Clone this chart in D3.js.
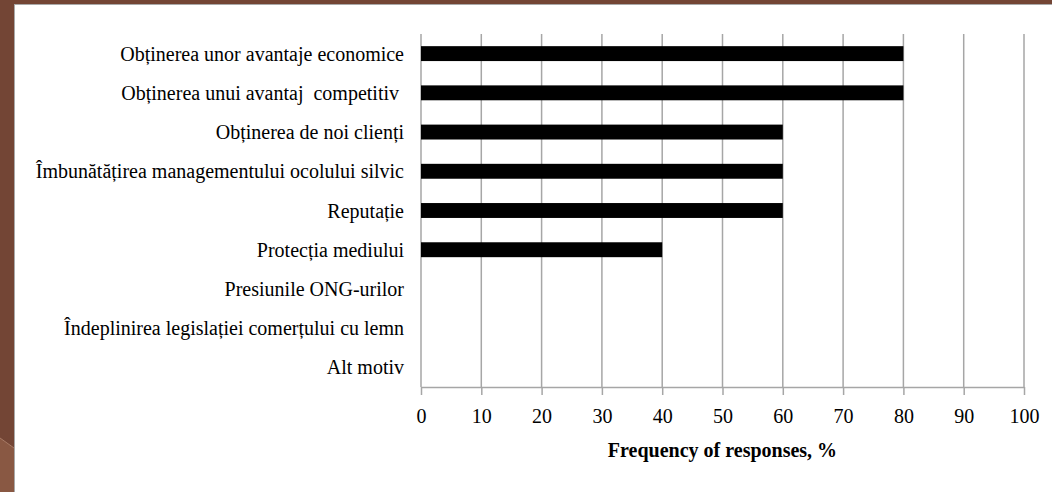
<!DOCTYPE html>
<html>
<head>
<meta charset="utf-8">
<script src="https://cdn.jsdelivr.net/npm/d3@7"></script>
<style>
  html, body { margin: 0; padding: 0; background: #734535; }
  svg { display: block; }
  .lbl { font-family: "Liberation Serif", "Times New Roman", serif; font-size: 20px; fill: #000; white-space: pre; }
</style>
</head>
<body>
<svg width="1052" height="492"></svg>
<script>
// motivele certificarii
var categories = [
  "Obținerea unor avantaje economice",
  "Obținerea unui avantaj  competitiv ",
  "Obținerea de noi clienți",
  "Îmbunătățirea managementului ocolului silvic",
  "Reputație",
  "Protecția mediului",
  "Presiunile ONG-urilor",
  "Îndeplinirea legislației comerțului cu lemn",
  "Alt motiv"
];
var values = [80, 80, 60, 60, 60, 40, 0, 0, 0];
var xTicks = [0, 10, 20, 30, 40, 50, 60, 70, 80, 90, 100];
var xTitle = "Frequency of responses, %";

var svg = d3.select("svg");

// fundal maro + panou alb
svg.append("path")
   .attr("d", "M0,438 L14,448 L14,492 L0,492 Z")
   .attr("fill", "#895843");
svg.append("line")
   .attr("x1", 0).attr("y1", 438).attr("x2", 14).attr("y2", 448)
   .attr("stroke", "#a77a66").attr("stroke-width", 1);
svg.append("rect")
   .attr("x", 14.5).attr("y", 4.5).attr("width", 1052).attr("height", 500)
   .attr("fill", "#fff").attr("stroke", "#a9a9a9").attr("stroke-width", 1);

var margin = {top: 34, left: 421, right: 28, bottom: 105},
    width = 1052 - margin.left - margin.right,
    height = 492 - margin.top - margin.bottom,
    g = svg.append("g").attr("transform", "translate(" + margin.left + "," + margin.top + ")");

var x = d3.scaleLinear().domain([0, 100]).range([0, width]);
var y = d3.scaleBand().domain(categories).range([0, height]).paddingInner(0.62).paddingOuter(0.31);

// grila
g.selectAll(".grid")
 .data(xTicks)
 .enter().append("line")
   .attr("class", "grid")
   .attr("x1", function(d){ return x(d); })
   .attr("x2", function(d){ return x(d); })
   .attr("y1", 0)
   .attr("y2", height)
   .attr("stroke", "#a6a6a6")
   .attr("stroke-width", 1.5);

var xAxis = g.append("g")
   .attr("transform", "translate(0," + height + ")")
   .call(d3.axisBottom(x).tickValues(xTicks).tickSize(8).tickPadding(14).tickSizeOuter(0));
xAxis.select(".domain").attr("stroke", "#a6a6a6").attr("stroke-width", 1.5);
xAxis.selectAll(".tick line").attr("stroke", "#a6a6a6").attr("stroke-width", 1.5);
xAxis.selectAll(".tick text")
   .attr("class", "lbl")
   .attr("font-size", null).attr("font-family", null);

// bare
g.selectAll(".bar")
 .data(values)
 .enter().append("rect")
   .attr("class", "bar")
   .attr("x", x(0))
   .attr("y", function(d, i){ return y(categories[i]); })
   .attr("width", function(d){ return x(d) - x(0); })
   .attr("height", y.bandwidth())
   .attr("fill", "#000");

// etichete categorii
g.selectAll(".cat")
 .data(categories)
 .enter().append("text")
   .attr("class", "lbl")
   .attr("x", -17)
   .attr("y", function(d){ return y(d) + y.bandwidth() / 2; })
   .attr("dy", "0.35em")
   .attr("text-anchor", "end")
   .text(function(d){ return d; });

g.append("text")
   .attr("class", "lbl")
   .attr("x", width / 2)
   .attr("y", height + 70)
   .attr("text-anchor", "middle")
   .attr("font-weight", "bold")
   .text(xTitle);
</script>
</body>
</html>
